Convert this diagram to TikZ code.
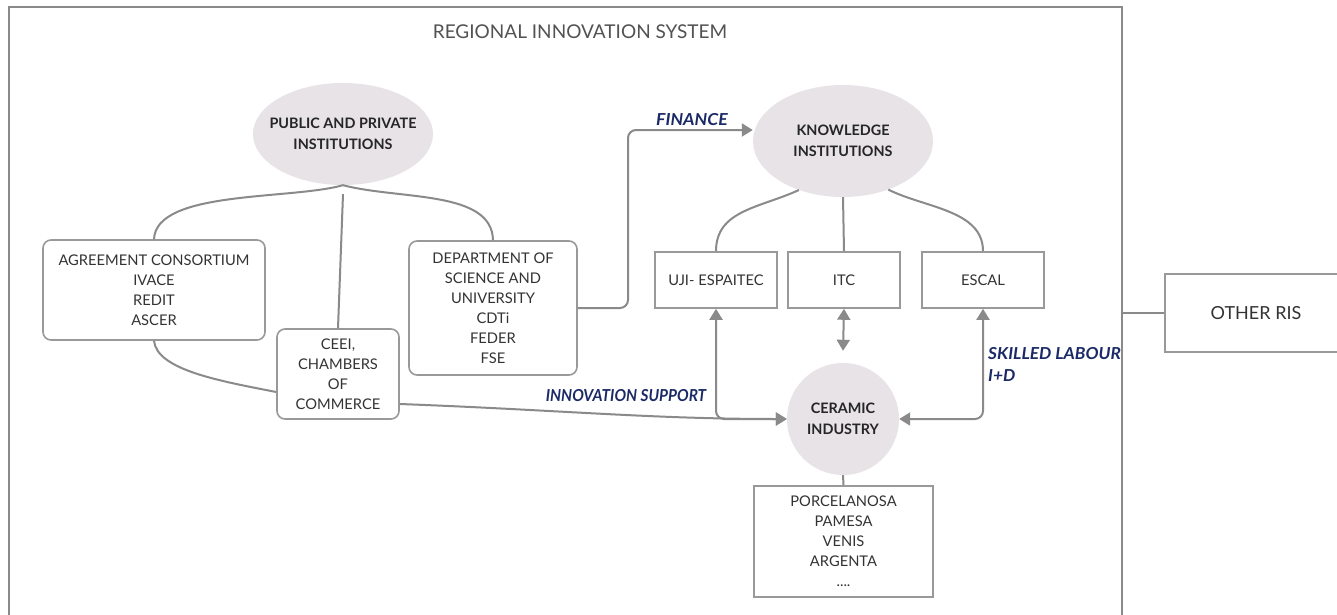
\documentclass[tikz,border=0pt]{standalone}
\usepackage{fontspec}
\setmainfont{Lato}
\usetikzlibrary{arrows.meta,shapes.geometric}
\definecolor{linegray}{HTML}{8A8A8A}
\definecolor{boxgray}{HTML}{999999}
\definecolor{bubblefill}{HTML}{E7E3E7}
\definecolor{txt}{HTML}{333333}
\definecolor{navy}{HTML}{1B2A66}
\begin{document}
\begin{tikzpicture}[x=1pt,y=-1pt,
  box/.style={draw=boxgray,line width=1.6pt,rounded corners=8pt,align=center,
    inner sep=0pt,text=txt,font=\fontsize{14.7}{20}\selectfont},
  sqbox/.style={box,sharp corners},
  bubble/.style={fill=bubblefill,inner sep=0pt,align=center,
    text=black!85,font=\bfseries\fontsize{14.4}{21}\selectfont},
  oval/.style={bubble,ellipse,inner xsep=-25pt},
  link/.style={draw=linegray,line width=2pt},
  tip/.style={-{Triangle[length=11pt,width=13pt]}},
  biarr/.style={{Triangle[length=11pt,width=13pt]}-{Triangle[length=11pt,width=13pt]}},
  lab/.style={text=navy,font=\bfseries\itshape\fontsize{16.5}{22}\selectfont,inner sep=0pt},
  frame/.style={draw=linegray,line width=2pt}
]
\clip (0,0) rectangle (1337,615);
\fill[white] (0,0) rectangle (1337,615);

% system boundary
\draw[frame] (9,7) rectangle (1122,630);
\node[text=txt!85,font=\fontsize{19}{22}\selectfont] (title) at (580,32) {REGIONAL INNOVATION SYSTEM};

% actor groups
\node[oval,minimum width=180pt,minimum height=102pt] (pub) at (343,134) {PUBLIC AND PRIVATE\\INSTITUTIONS};
\node[oval,minimum width=180pt,minimum height=112pt] (know) at (843,141) {KNOWLEDGE\\INSTITUTIONS};
\node[bubble,circle,minimum size=112pt] (ceramic) at (843,419) {CERAMIC\\INDUSTRY};

% members
\node[box,minimum width=222pt,minimum height=100pt] (agree) at (154,290) {AGREEMENT CONSORTIUM\\IVACE\\REDIT\\ASCER};
\node[box,minimum width=122pt,minimum height=90pt] (ceei) at (338,374) {CEEI,\\CHAMBERS\\OF\\COMMERCE};
\node[box,minimum width=168pt,minimum height=134pt] (dept) at (493,308) {DEPARTMENT OF\\SCIENCE AND\\UNIVERSITY\\CDTi\\FEDER\\FSE};
\node[sqbox,minimum width=122pt,minimum height=56pt] (uji) at (716,280) {UJI- ESPAITEC};
\node[sqbox,minimum width=112pt,minimum height=56pt] (itc) at (844,280) {ITC};
\node[sqbox,minimum width=122pt,minimum height=56pt] (esc) at (983,280) {ESCAL};
\node[sqbox,minimum width=179pt,minimum height=111pt] (firms) at (843.5,541.5) {PORCELANOSA\\PAMESA\\VENIS\\ARGENTA\\....};
\node[sqbox,minimum width=182pt,minimum height=78pt,font=\fontsize{18}{20}\selectfont] (oris) at (1256,313) {OTHER RIS};

% tree branches
\draw[link] (pub.south) .. controls (290,200) and (156,190) .. (agree.north);
\draw[link] (pub.south) .. controls (400,200) and (492,190) .. (dept.north);
\draw[link] ([yshift=-9pt]pub.south) -- (ceei.north);
\draw[link] (know.228) .. controls (760,208) and (716,210) .. (uji.north);
\draw[link] (know.south) -- (itc.north);
\draw[link] (know.313) .. controls (925,208) and (983,210) .. (esc.north);
\draw[link] (ceramic.south) -- (firms.north);

% flows
\draw[link] (agree.south) .. controls (157,370) and (220,381) .. ([yshift=-18pt]ceei.west);
\draw[link,tip] ([yshift=-30pt]ceei.east) .. controls (560,410) and (650,419) .. (ceramic.west);
\draw[link,biarr,rounded corners=8pt] (uji.south) |- (ceramic.west);
\draw[link,biarr,rounded corners=8pt] (esc.south) |- (ceramic.east);
\draw[link,biarr] (itc.south) -- ([yshift=12pt]ceramic.north);
\draw[link,tip,rounded corners=8pt] (dept.east) -- (628,308) |- ([yshift=11pt]know.west);
\coordinate (edge) at (1122,313);
\draw[link] (edge) -- (oris.west);

% flow labels
\node[lab,anchor=west] (lfin) at (656,120) {\scalebox{1.07}[1]{FINANCE}};
\node[lab] (linno) at (626,396) {\scalebox{0.935}[1]{INNOVATION SUPPORT}};
\node[lab,anchor=west,align=left] (lskill) at (988,364) {\scalebox{1.05}[1]{SKILLED LABOUR}\\\scalebox{1.05}[1]{I+D}};
\end{tikzpicture}
\end{document}
